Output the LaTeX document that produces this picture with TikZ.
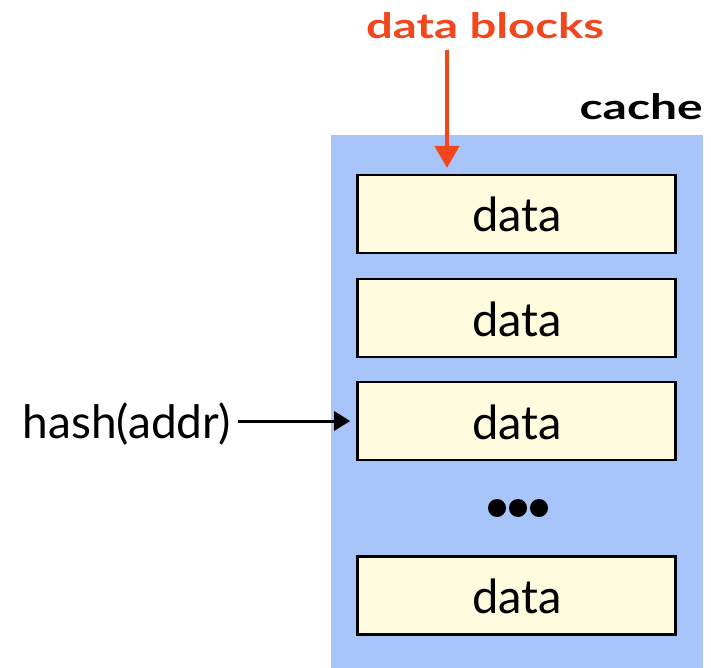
\documentclass[tikz,border=0pt]{standalone}
\usepackage{fontspec}
\setmainfont{Lato}
\usetikzlibrary{arrows.meta}
\definecolor{cacheblue}{HTML}{A8C5FA}
\definecolor{boxyellow}{HTML}{FEFBDF}
\definecolor{labelred}{HTML}{F2461E}
\tikzset{
  datablock/.style={draw=black, line width=2.6pt, fill=boxyellow, minimum width=318pt, minimum height=78pt, inner sep=0pt},
  datatext/.style={font=\fontsize{47}{47}\selectfont},
  hashtext/.style={font=\fontsize{46}{46}\selectfont},
  boldlabel/.style={font=\fontsize{35}{35}\selectfont\bfseries},
  dotmark/.style={fill=black, circle, inner sep=0pt, minimum size=18pt},
}
\begin{document}
\begin{tikzpicture}[x=1pt,y=-1pt]
\useasboundingbox (0,0) rectangle (711,668);
\fill[cacheblue] (331,135) rectangle (703,668);
\node[datablock] (b1) at (516.5,214) {};
\node[datablock] (b2) at (516.5,318) {};
\node[datablock] (b3) at (516.5,421) {};
\node[datablock] (b4) at (516.5,595.5) {};
\node[datatext, anchor=base] (t1) at (517,232) {data};
\node[datatext, anchor=base] (t2) at (517,336) {data};
\node[datatext, anchor=base] (t3) at (517,439) {data};
\node[datatext, anchor=base] (t4) at (517,613.5) {data};
\node[dotmark] (d1) at (497,508) {};
\node[dotmark] (d2) at (518,508) {};
\node[dotmark] (d3) at (539,508) {};
\node[boldlabel, text=labelred, anchor=base] (db) at (485,39) {\scalebox{1.35}[1]{data blocks}};
\node[boldlabel, anchor=base east, inner sep=0pt] (cache) at (703,120) {\scalebox{1.37}[1]{cache}};
\node[hashtext, anchor=base east, inner sep=0pt] (hash) at (231,438) {hash(addr)};
\coordinate (redstart) at (447,50);
\draw[labelred, line width=4pt, -{Triangle[width=24pt,length=22pt]}] (redstart) -- (447,168);
\draw[black, line width=3pt, -{Triangle[width=19pt,length=16pt]}] (hash.east |- b3.west) ++(7,0) -- ([xshift=-6pt]b3.west);
\end{tikzpicture}
\end{document}
